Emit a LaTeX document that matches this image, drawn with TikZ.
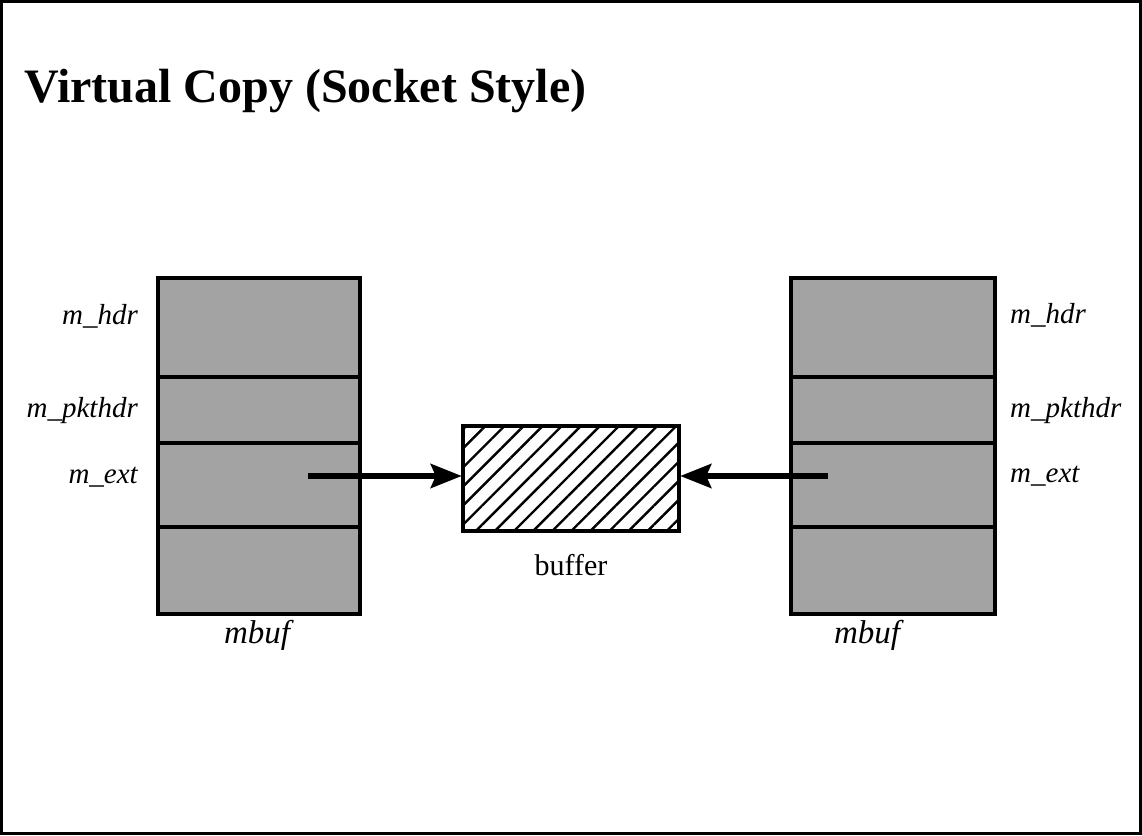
\documentclass[tikz,border=0pt]{standalone}
\usepackage{fontspec}
\setmainfont{Liberation Serif}
\usetikzlibrary{arrows.meta,patterns.meta}
\begin{document}
\begin{tikzpicture}[x=1pt,y=-1pt,
  lbl/.style={font=\fontsize{29}{32}\selectfont\itshape, inner sep=0pt},
  mcell/.style={draw, line width=4pt, fill=black!36, minimum width=#1, inner sep=0pt},
  bufbox/.style={draw, line width=4pt, minimum width=216pt, minimum height=105pt,
     pattern={Lines[angle=45,distance=13.5pt,line width=2.4pt]}},
  ptr/.style={line width=5.5pt, -{Stealth[length=31pt,width=24pt,inset=5pt]}}]
\useasboundingbox (0,0) rectangle (1142,835);
\draw[line width=3pt] (1.5,1.5) rectangle (1140.5,833.5);

\node[anchor=base west, inner sep=0pt, font=\fontsize{48}{52}\selectfont\bfseries] (title) at (24,102) {Virtual Copy (Socket Style)};

% left mbuf
\node[mcell=202pt, minimum height=99pt] (l1) at (259,327.5) {};
\node[mcell=202pt, minimum height=66pt] (l2) at (259,410) {};
\node[mcell=202pt, minimum height=84pt] (l3) at (259,485) {};
\node[mcell=202pt, minimum height=87pt] (l4) at (259,570.5) {};
% right mbuf
\node[mcell=204pt, minimum height=99pt] (r1) at (893,327.5) {};
\node[mcell=204pt, minimum height=66pt] (r2) at (893,410) {};
\node[mcell=204pt, minimum height=84pt] (r3) at (893,485) {};
\node[mcell=204pt, minimum height=87pt] (r4) at (893,570.5) {};

% labels left
\node[lbl, anchor=base east] (lh) at (138,324) {m\_hdr};
\node[lbl, anchor=base east] (lp) at (138,417) {m\_pkthdr};
\node[lbl, anchor=base east] (le) at (138,483) {m\_ext};
\node[lbl, anchor=base, font=\fontsize{33}{36}\selectfont\itshape] (lm) at (257,643) {mbuf};
% labels right
\node[lbl, anchor=base west] (rh) at (1010,323) {m\_hdr};
\node[lbl, anchor=base west] (rp) at (1010,417) {m\_pkthdr};
\node[lbl, anchor=base west] (re) at (1010,482) {m\_ext};
\node[lbl, anchor=base, font=\fontsize{33}{36}\selectfont\itshape] (rm) at (867,643) {mbuf};

% buffer
\node[bufbox] (buf) at (571,478.5) {};
\node[anchor=base, inner sep=0pt, font=\fontsize{30}{34}\selectfont] (buflbl) at (571,575) {buffer};

\coordinate (lsrc) at (308,476);
\coordinate (rsrc) at (828,476);
\draw[ptr] (lsrc) -- (buf.west |- lsrc);
\draw[ptr] (rsrc) -- (buf.east |- rsrc);
\end{tikzpicture}
\end{document}
